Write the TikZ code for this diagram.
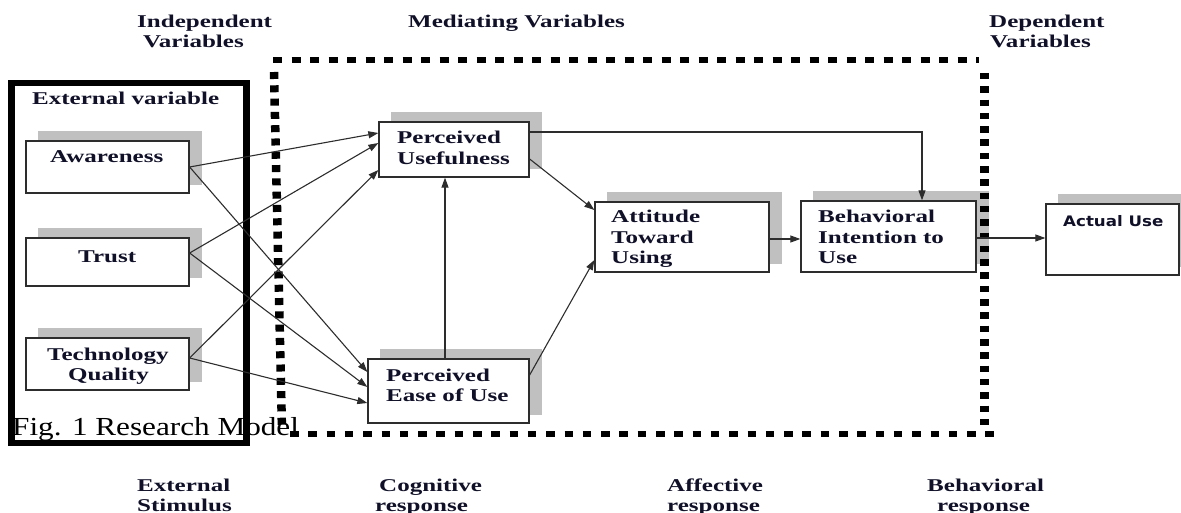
\documentclass[tikz,border=0pt]{standalone}
\usepackage{fontspec}
\setmainfont{Liberation Serif}
\newfontfamily\lblfont[FakeStretch=1.39]{Liberation Serif}
\newfontfamily\capfont[FakeStretch=1.2]{Liberation Serif}
\newfontfamily\actfont[FakeStretch=1.15]{DejaVu Sans}
\usetikzlibrary{calc,arrows.meta,backgrounds}
\definecolor{ink}{RGB}{16,16,40}
\definecolor{edge}{RGB}{45,45,45}
\definecolor{shadowgray}{RGB}{192,192,192}

\begin{document}
\begin{tikzpicture}[x=1pt,y=-1pt,
  box/.style={draw=edge, fill=white, line width=1.3pt, inner sep=0pt},
  lbl/.style={anchor=base west, inner sep=0pt, text=ink,
    font=\lblfont\bfseries\fontsize{18}{20.5}\selectfont},
  arr/.style={draw=edge, line width=1.1pt, -{Triangle[length=10pt,width=7pt]}},
  dotsh/.style={draw=black, line width=6pt},
  dotsv/.style={draw=black, line width=8.5pt},
]
\useasboundingbox (0,0) rectangle (1181,513);

% stage headings
\node[lbl] (hind1) at (137,28) {Independent};
\node[lbl] (hind2) at (143,48) {Variables};
\node[lbl] (hmed)  at (408,28) {Mediating Variables};
\node[lbl] (hdep1) at (989,28) {Dependent};
\node[lbl] (hdep2) at (990,48) {Variables};

% external variable group
\draw[line width=6.5pt, black] (11.5,83) rectangle (246.5,443);
\node[lbl] (extlbl) at (32,105) {External variable};

% mediating frame (dotted)
\draw[dotsh, dash pattern=on 9pt off 9.5pt] (273,60) -- (979,60);
\draw[dotsv, dash pattern=on 6.5pt off 6.8pt] (984.5,73) -- (984.5,430);
\draw[dotsh, dash pattern=on 8.5pt off 9.8pt] (290,434) -- (998,434);
\draw[dotsv, dash pattern=on 7pt off 6.3pt] (274,72) -- (282,431);

% boxes
\node[box, minimum width=163pt, minimum height=52pt] (aw)   at (107.5,167) {};
\node[box, minimum width=163pt, minimum height=48pt] (tr)   at (107.5,262) {};
\node[box, minimum width=163pt, minimum height=52pt] (tq)   at (107.5,364) {};
\node[box, minimum width=150pt, minimum height=55pt] (pu)   at (454,149.5) {};
\node[box, minimum width=161pt, minimum height=64pt] (peou) at (448.5,391) {};
\node[box, minimum width=174pt, minimum height=70pt] (atu)  at (682,237) {};
\node[box, minimum width=175pt, minimum height=71pt] (biu)  at (888.5,236.5) {};
\node[box, minimum width=133pt, minimum height=71pt] (au)   at (1112.5,239.5) {};

% drop shadows behind the boxes
\begin{scope}[on background layer]
  \foreach \b in {aw,tr,tq,pu,peou,atu,biu,au}
    \fill[shadowgray] ($(\b.south west)+(12.5,-9)$) rectangle ($(\b.north east)+(12.5,-9)$);
\end{scope}

% box texts
\node[lbl] (taw) at (50,163) {Awareness};
\node[lbl] (ttr) at (78,262) {Trust};
\node[lbl] (ttq) at (47,360) {\vtop{\hbox{Technology}\hbox{\hspace{21pt}Quality}}};
\node[lbl] (tpu) at (397,144) {\vtop{\hbox{Perceived}\hbox{Usefulness}}};
\node[lbl] (tpeou) at (386,381) {\vtop{\hbox{Perceived}\hbox{Ease of Use}}};
\node[lbl] (tatu) at (611,223) {\vtop{\hbox{Attitude}\hbox{Toward}\hbox{Using}}};
\node[lbl] (tbiu) at (818,223) {\vtop{\hbox{Behavioral}\hbox{Intention to}\hbox{Use}}};
\node[anchor=base west, inner sep=0pt, text=ink,
  font=\actfont\bfseries\fontsize{14.5}{17}\selectfont] (tau) at (1063,227) {Actual Use};

% connectors
\draw[arr] (aw.east) -- ($(pu.west)+(0,-16.5)$);
\draw[arr] ($(tr.east)+(0,-9)$) -- ($(pu.west)+(0,-6.5)$);
\draw[arr] ($(tq.east)+(0,-6)$) -- ($(pu.west)+(0,20.5)$);
\draw[arr] (aw.east) -- ($(peou.west)+(0,-19)$);
\draw[arr] ($(tr.east)+(0,-9)$) -- ($(peou.west)+(0,-4)$);
\draw[arr] ($(tq.east)+(0,-6)$) -- ($(peou.west)+(0,12)$);
\draw[arr] ($(peou.north)+(-3.5,0)$) -- ($(pu.south)+(-9,0)$);
\draw[arr] ($(pu.east)+(0,9.5)$) -- ($(atu.west)+(0,-27)$);
\draw[arr] ($(peou.east)+(0,-16)$) -- ($(atu.west)+(0,23)$);
\draw[arr] ($(atu.east)+(0,2)$) -- ($(biu.west)+(0,2.5)$);
\draw[arr] ($(pu.east)+(0,-17.5)$) -| ($(biu.north)+(33.5,0)$);
\draw[arr] ($(biu.east)+(0,1.5)$) -- ($(au.west)+(0,-1.5)$);

% response stages
\node[lbl] (fext1) at (137,491) {External};
\node[lbl] (fext2) at (137,511) {Stimulus};
\node[lbl] (fcog1) at (379,491) {Cognitive};
\node[lbl] (fcog2) at (375,511) {response};
\node[lbl] (faff1) at (667,491) {Affective};
\node[lbl] (faff2) at (667,511) {response};
\node[lbl] (fbeh1) at (927,491) {Behavioral};
\node[lbl] (fbeh2) at (937,511) {response};

% caption
\node[anchor=base west, inner sep=0pt, text=black,
  font=\capfont\fontsize{26}{30}\selectfont] (fig) at (12,435) {Fig. 1 Research Model};
\end{tikzpicture}
\end{document}
